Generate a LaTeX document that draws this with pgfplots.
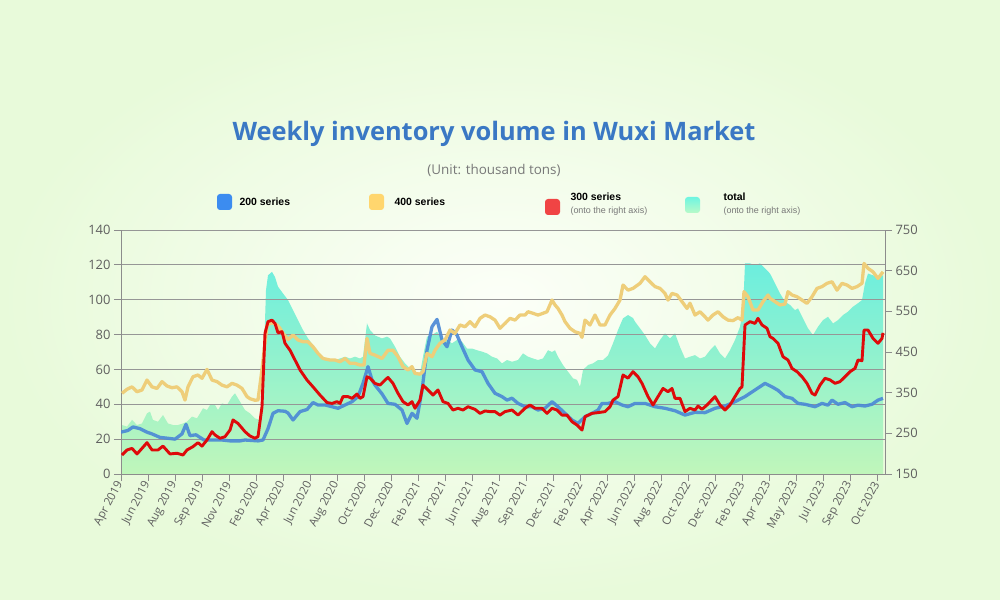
\documentclass[border=0pt]{standalone}
\usepackage{fontspec}
\setmainfont{Open Sans}
\newfontfamily\legfont{Liberation Sans}
\usepackage{pgfplots}
\pgfplotsset{compat=1.18}
\definecolor{bgedge}{RGB}{232,250,218}
\definecolor{bgmid}{RGB}{252,255,248}
\definecolor{titleblue}{RGB}{58,120,196}
\definecolor{ser200}{RGB}{74,136,214}
\definecolor{ser400}{RGB}{238,206,122}
\definecolor{ser300}{RGB}{222,10,10}
\definecolor{areatop}{RGB}{108,238,222}
\definecolor{areabot}{RGB}{192,246,186}
\definecolor{gridc}{RGB}{150,150,150}
\definecolor{axc}{RGB}{140,140,140}
\definecolor{tickc}{RGB}{95,95,95}
\definecolor{subc}{RGB}{120,120,120}
\pgfplotsset{
  base/.style={at={(121bp,126bp)}, anchor=south west, scale only axis,
    width=764bp, height=244bp, xmin=0, xmax=764,
    /pgf/number format/assume math mode=true},
}
\begin{document}
\begin{tikzpicture}
\path[inner color=bgmid, outer color=bgedge] (0,0) rectangle (1000bp,600bp);
\node[font=\fontsize{25.5}{30}\selectfont\bfseries, text=titleblue] at (494bp,466bp) {Weekly inventory volume in Wuxi Market};
\node[font=\fontsize{13.5}{16}\selectfont, text=subc] at (494bp,430bp) {(Unit: thousand tons)};
% legend
\fill[rounded corners=3bp, fill={rgb,255:red,60;green,140;blue,240}] (217bp,390bp) rectangle (232bp,406bp);
\node[anchor=west, font=\legfont\bfseries\fontsize{10.5}{12}\selectfont] at (236bp,398bp) {200 series};
\fill[rounded corners=3bp, fill={rgb,255:red,255;green,214;blue,110}] (369bp,390bp) rectangle (384bp,406bp);
\node[anchor=west, font=\legfont\bfseries\fontsize{10.5}{12}\selectfont] at (391bp,398bp) {400 series};
\fill[rounded corners=3bp, fill={rgb,255:red,240;green,68;blue,68}] (545bp,385bp) rectangle (560bp,401bp);
\node[anchor=west, font=\legfont\bfseries\fontsize{10.5}{12}\selectfont] at (567bp,403bp) {300 series};
\node[anchor=west, font=\legfont\fontsize{9}{10}\selectfont, text=subc] at (567bp,389bp) {(onto the right axis)};
\shade[rounded corners=3bp, top color={rgb,255:red,110;green,245;blue,225}, bottom color={rgb,255:red,185;green,250;blue,200}] (685bp,387bp) rectangle (700bp,403bp);
\node[anchor=west, font=\legfont\bfseries\fontsize{10.5}{12}\selectfont] at (720bp,403bp) {total};
\node[anchor=west, font=\legfont\fontsize{9}{10}\selectfont, text=subc] at (720bp,389bp) {(onto the right axis)};

% total area (right axis)
\begin{axis}[base, ymin=150, ymax=750, hide axis]
\addplot[draw=none, top color=areatop, bottom color=areabot] coordinates {
(1,150)(1,270.4)(6,266.6)(11,282.9)(16,270.4)(21,274.3)(26,299.1)(29,303.4)(32,282.9)(37,278.6)(42,294.9)(47,274.3)(52,270.4)(57,270.4)(62,274.3)(66,278.6)(71,291)(76,287.1)(79,299.1)(82,311.6)(86,307.3)(89,319.7)(94,319.7)(97,307.3)(101,323.6)(106,319.7)(111,340.3)(114,348.4)(119,327.9)(124,307.3)(129,299.1)(134,286.7)(139,282.9)(142,372.9)(145,602.1)(147,638.6)(151,647.1)(154,634.3)(157,610.7)(162,594)(167,577.7)(172,552.9)(177,528.4)(182,504)(187,483.4)(192,467.1)(197,450.9)(202,434.1)(209,430.3)(214,430.3)(219,434.1)(224,438.4)(229,434.1)(234,438.4)(239,434.1)(242,438.4)(246,520.3)(249,504)(254,490.7)(261,483.4)(266,487.7)(269,483.4)(274,462.9)(279,438.4)(284,422.1)(289,409.7)(294,401.6)(299,397.3)(302,438.4)(306,487.7)(311,491.6)(316,499.7)(321,483.4)(326,479.6)(331,471.4)(336,479.6)(341,475.3)(346,458.6)(351,458.6)(356,454.3)(361,450.9)(366,446.6)(371,438.4)(376,434.1)(381,422.1)(386,430.3)(391,426)(397,430.3)(402,446.6)(407,438.4)(412,434.1)(417,430.3)(422,434.1)(427,454.3)(431,450)(434,454.3)(437,438.4)(442,417.9)(447,401.6)(452,385.3)(456,381.4)(459,364.3)(462,405.9)(467,417.9)(472,422.1)(477,430.3)(482,430.3)(487,441.4)(492,471.4)(497,504)(502,532.7)(507,540.9)(512,533.6)(514,524.6)(519,508.3)(524,491.6)(529,471.4)(534,458.6)(539,479.6)(544,495.9)(549,483.4)(554,495.9)(559,462.4)(564,434.1)(569,438.4)(574,442.3)(579,434.1)(584,438.4)(589,454.3)(594,467.1)(599,446.6)(604,434.1)(609,454.3)(614,479.6)(619,512.1)(622,552.9)(624,667.7)(629,667.7)(634,663.4)(639,667.7)(644,655.7)(649,642.9)(654,618.9)(659,594)(664,573.9)(669,565.7)(674,552.9)(677,557.1)(682,532.7)(687,508.3)(692,491.6)(697,512.1)(702,528.4)(707,536.6)(712,520.3)(717,528.4)(722,540.9)(727,549)(732,561.4)(737,570)(741,577.7)(744,618.9)(747,642.9)(752,638.6)(757,634.3)(762,638.6)(762,150)
} -- cycle;
\end{axis}

% left axis: 200 and 400 series
\begin{axis}[base, ymin=0, ymax=140, ytick={0,20,...,140},
  axis y line*=left, axis x line*=bottom,
  ymajorgrids, grid style={gridc, line width=0.9bp},
  axis line style={axc, line width=0.9bp},
  tick style={axc, line width=0.8bp}, tick align=outside, major tick length=7bp,
  xtick={0,27,...,756},
  xticklabels={Apr 2019,Jun 2019,Aug 2019,Sep 2019,Nov 2019,Feb 2020,Apr 2020,Jun 2020,Aug 2020,Oct 2020,Dec 2020,Feb 2021,Apr 2021,Jun 2021,Aug 2021,Sep 2021,Dec 2021,Feb 2022,Apr 2022,Jun 2022,Aug 2022,Oct 2022,Dec 2022,Feb 2023,Apr 2023,May 2023,Jul 2023,Sep 2023,Oct 2023},
  xticklabel style={rotate=62, anchor=east, font=\fontsize{11.5}{13}\selectfont, text=tickc, inner sep=1.5bp},
  yticklabel style={font=\fontsize{13}{15}\selectfont, text=tickc},
  line join=round]
\addplot[ser200, line width=3.3bp, opacity=0.9] coordinates {
(0,24)(7,25)(12,27)(19,26)(26,24)(31,23)(39,21)(47,20.5)(54,20)(61,23)(65,28.5)(69,22)(75,22.5)(83,19.5)(91,19.5)(101,19.5)(109,19)(119,19)(124,19.5)(137,19)(142,19.5)(147,26)(152,34.8)(157,36.3)(164,36)(167,35)(172,31)(179,35.8)(186,37)(192,41)(197,39.6)(204,39.6)(211,38.6)(217,37.7)(224,39.6)(231,41.5)(237,44.4)(242,52)(247,61.6)(251,54)(254,51)(261,46)(267,40.5)(274,40)(281,36.7)(286,29)(291,34.8)(296,32)(301,48)(306,71)(311,84.5)(316,88.7)(321,77)(326,73)(331,82.6)(336,79.7)(341,73)(347,65.4)(354,59.7)(361,58.7)(367,52)(374,46.3)(381,44.4)(386,42.4)(391,43.5)(397,40.5)(404,38.6)(411,38.6)(417,36.7)(424,37.7)(431,41.5)(437,38.6)(444,34.8)(451,31)(457,29)(464,32.9)(471,34.8)(477,36.7)(481,40.5)(487,40.5)(494,41.5)(501,39.6)(507,38.6)(514,40.5)(524,40.5)(534,38.6)(544,37.7)(554,36.3)(564,33.8)(574,35.4)(584,35.2)(594,37.7)(604,39)(614,41.5)(624,44.4)(634,48.2)(644,52)(651,50)(657,48)(664,44.4)(671,43.4)(677,40.5)(684,40)(694,38.6)(701,40.5)(707,39.5)(711,42.4)(717,40)(724,41)(731,38.6)(737,39.5)(744,39)(751,40)(757,42.4)(762,43.4)
};
\addplot[ser400, line width=3.3bp] coordinates {
(1,46.3)(6,48.6)(11,50)(16,47.2)(21,48.2)(26,53.9)(31,50)(36,49.1)(41,53)(46,50.5)(51,49.5)(56,50)(61,47.2)(64,42.4)(67,50)(72,55.8)(77,56.8)(81,54.9)(86,60)(91,53.9)(96,53)(101,51)(106,50)(111,52)(116,51)(121,49.1)(126,44.4)(129,43.2)(134,42.3)(137,42.5)(141,60)(146,85.5)(151,86.8)(156,85.5)(159,83.6)(162,80.7)(167,77.2)(172,79.7)(177,76.9)(182,75.9)(187,75.9)(192,73)(197,69.2)(202,66.3)(209,65.4)(214,65.4)(219,64.4)(224,66.3)(229,63.5)(234,63.5)(239,62.5)(243,62.5)(246,77.8)(249,69.2)(254,68.2)(261,66.3)(267,71)(272,71)(277,67.3)(282,61.6)(287,59.7)(291,61.6)(294,57.7)(299,57.3)(302,58.7)(306,69.2)(311,67.3)(314,71)(319,75)(324,76.9)(329,82.6)(334,80.7)(339,85.5)(344,84.5)(349,87.4)(354,84.5)(359,89.3)(364,91.2)(369,90.2)(374,88.3)(379,83.6)(384,86.4)(389,89.3)(394,88.3)(399,91.2)(404,91.2)(407,93.1)(412,92.2)(417,91.2)(422,92.2)(426,93.1)(431,99.8)(434,97)(437,95)(441,91.2)(444,87.4)(449,83.6)(454,81.6)(459,80.7)(461,78.4)(464,88.3)(469,85.5)(474,91.2)(479,85.5)(484,85.5)(489,91.2)(494,95)(499,99.8)(502,108.4)(507,105.5)(512,106.5)(519,109.4)(524,113.2)(529,110.3)(534,107.5)(539,106.5)(544,103.6)(547,99.8)(551,103.6)(556,102.7)(561,98.9)(566,95)(569,98)(574,91.2)(579,93.1)(584,90.2)(587,88.3)(592,91.2)(597,93.1)(602,90.2)(607,88.3)(612,88)(617,89.7)(621,88.3)(623,104.6)(627,101.7)(632,94.1)(637,94.1)(642,98.9)(647,102.7)(649,100.8)(654,98.9)(659,97)(664,97.5)(667,104.6)(671,102.7)(676,101.7)(681,99.8)(686,97.9)(691,101.7)(696,106.5)(701,107.5)(706,109.4)(711,110.3)(716,105.5)(721,109.4)(726,108.4)(731,106.5)(736,107.5)(741,109.4)(743,120.8)(747,118)(752,116)(757,112.2)(762,116)
};
\end{axis}

% right axis: 300 series
\begin{axis}[base, ymin=150, ymax=750, ytick={150,250,...,750},
  axis y line*=right, axis x line=none,
  axis line style={axc, line width=0.9bp},
  tick style={axc, line width=0.8bp}, tick align=outside, major tick length=7bp,
  yticklabel style={font=\fontsize{13}{15}\selectfont, text=tickc},
  line join=round]
\addplot[ser300, line width=2.9bp] coordinates {
(1,196.7)(6,209.1)(11,213)(16,199.3)(21,213)(26,227.1)(31,209.1)(37,209.1)(42,218.6)(49,199.3)(56,201)(62,196.7)(66,209.1)(72,217.3)(77,227.1)(81,218.6)(86,233.6)(91,254.1)(94,246)(99,237.9)(104,241.7)(109,258)(112,282.9)(117,274.3)(124,254.1)(129,243.4)(134,237.9)(137,241.7)(141,315.4)(144,495.9)(147,524.6)(151,528.4)(154,520.3)(157,497.1)(161,500.1)(164,471.4)(169,454.3)(174,430.3)(179,405.9)(186,381)(192,364.3)(199,344.1)(206,325.7)(211,323.6)(216,327.9)(219,323.6)(222,340.3)(227,340.3)(231,336)(236,346.7)(239,336)(242,340.3)(246,389.1)(249,385.7)(254,372.9)(259,368.6)(264,381)(267,387.4)(272,372.9)(277,348.4)(282,327.9)(287,319.7)(291,327.9)(294,311.6)(299,331.7)(302,368.6)(307,356.6)(312,344.1)(317,356.6)(322,327.9)(327,323.6)(332,307.3)(337,311.6)(342,307.3)(347,315.4)(354,309)(359,299.1)(364,305)(369,303.4)(374,303.4)(379,294.9)(384,303.4)(391,307.3)(397,294.9)(404,311.6)(409,319.7)(414,311.6)(421,311.6)(426,299.1)(431,311.6)(436,307.3)(441,294.9)(446,294.9)(451,278.6)(456,270.4)(461,258)(464,291)(471,299.1)(477,300.9)(484,303.4)(489,315.4)(492,331.7)(497,340.3)(502,393.4)(507,385.7)(512,401.6)(517,389.1)(521,372.9)(527,340.3)(532,319.7)(537,340.3)(542,360.4)(547,352.3)(551,360.4)(554,336)(559,336)(564,303.4)(569,311.6)(574,307.3)(577,317.1)(581,309)(586,319.7)(594,340.3)(599,319.7)(604,307.3)(609,319.7)(614,340.3)(619,360.4)(621,364.3)(624,516.4)(629,524.6)(634,520.3)(637,532.7)(641,516.4)(646,508.3)(649,487.7)(652,483.4)(657,471.4)(662,438.4)(667,430.3)(671,409.7)(676,401.6)(681,389.1)(686,372.9)(691,348.4)(694,344.1)(699,368.6)(704,385.3)(709,381.4)(714,372.9)(719,377.1)(724,389.1)(729,401.6)(734,409.7)(737,430.3)(741,428.6)(743,504)(747,504)(752,483.4)(757,471.4)(761,483.4)(762,497.1)
};
\end{axis}
\end{tikzpicture}
\end{document}
